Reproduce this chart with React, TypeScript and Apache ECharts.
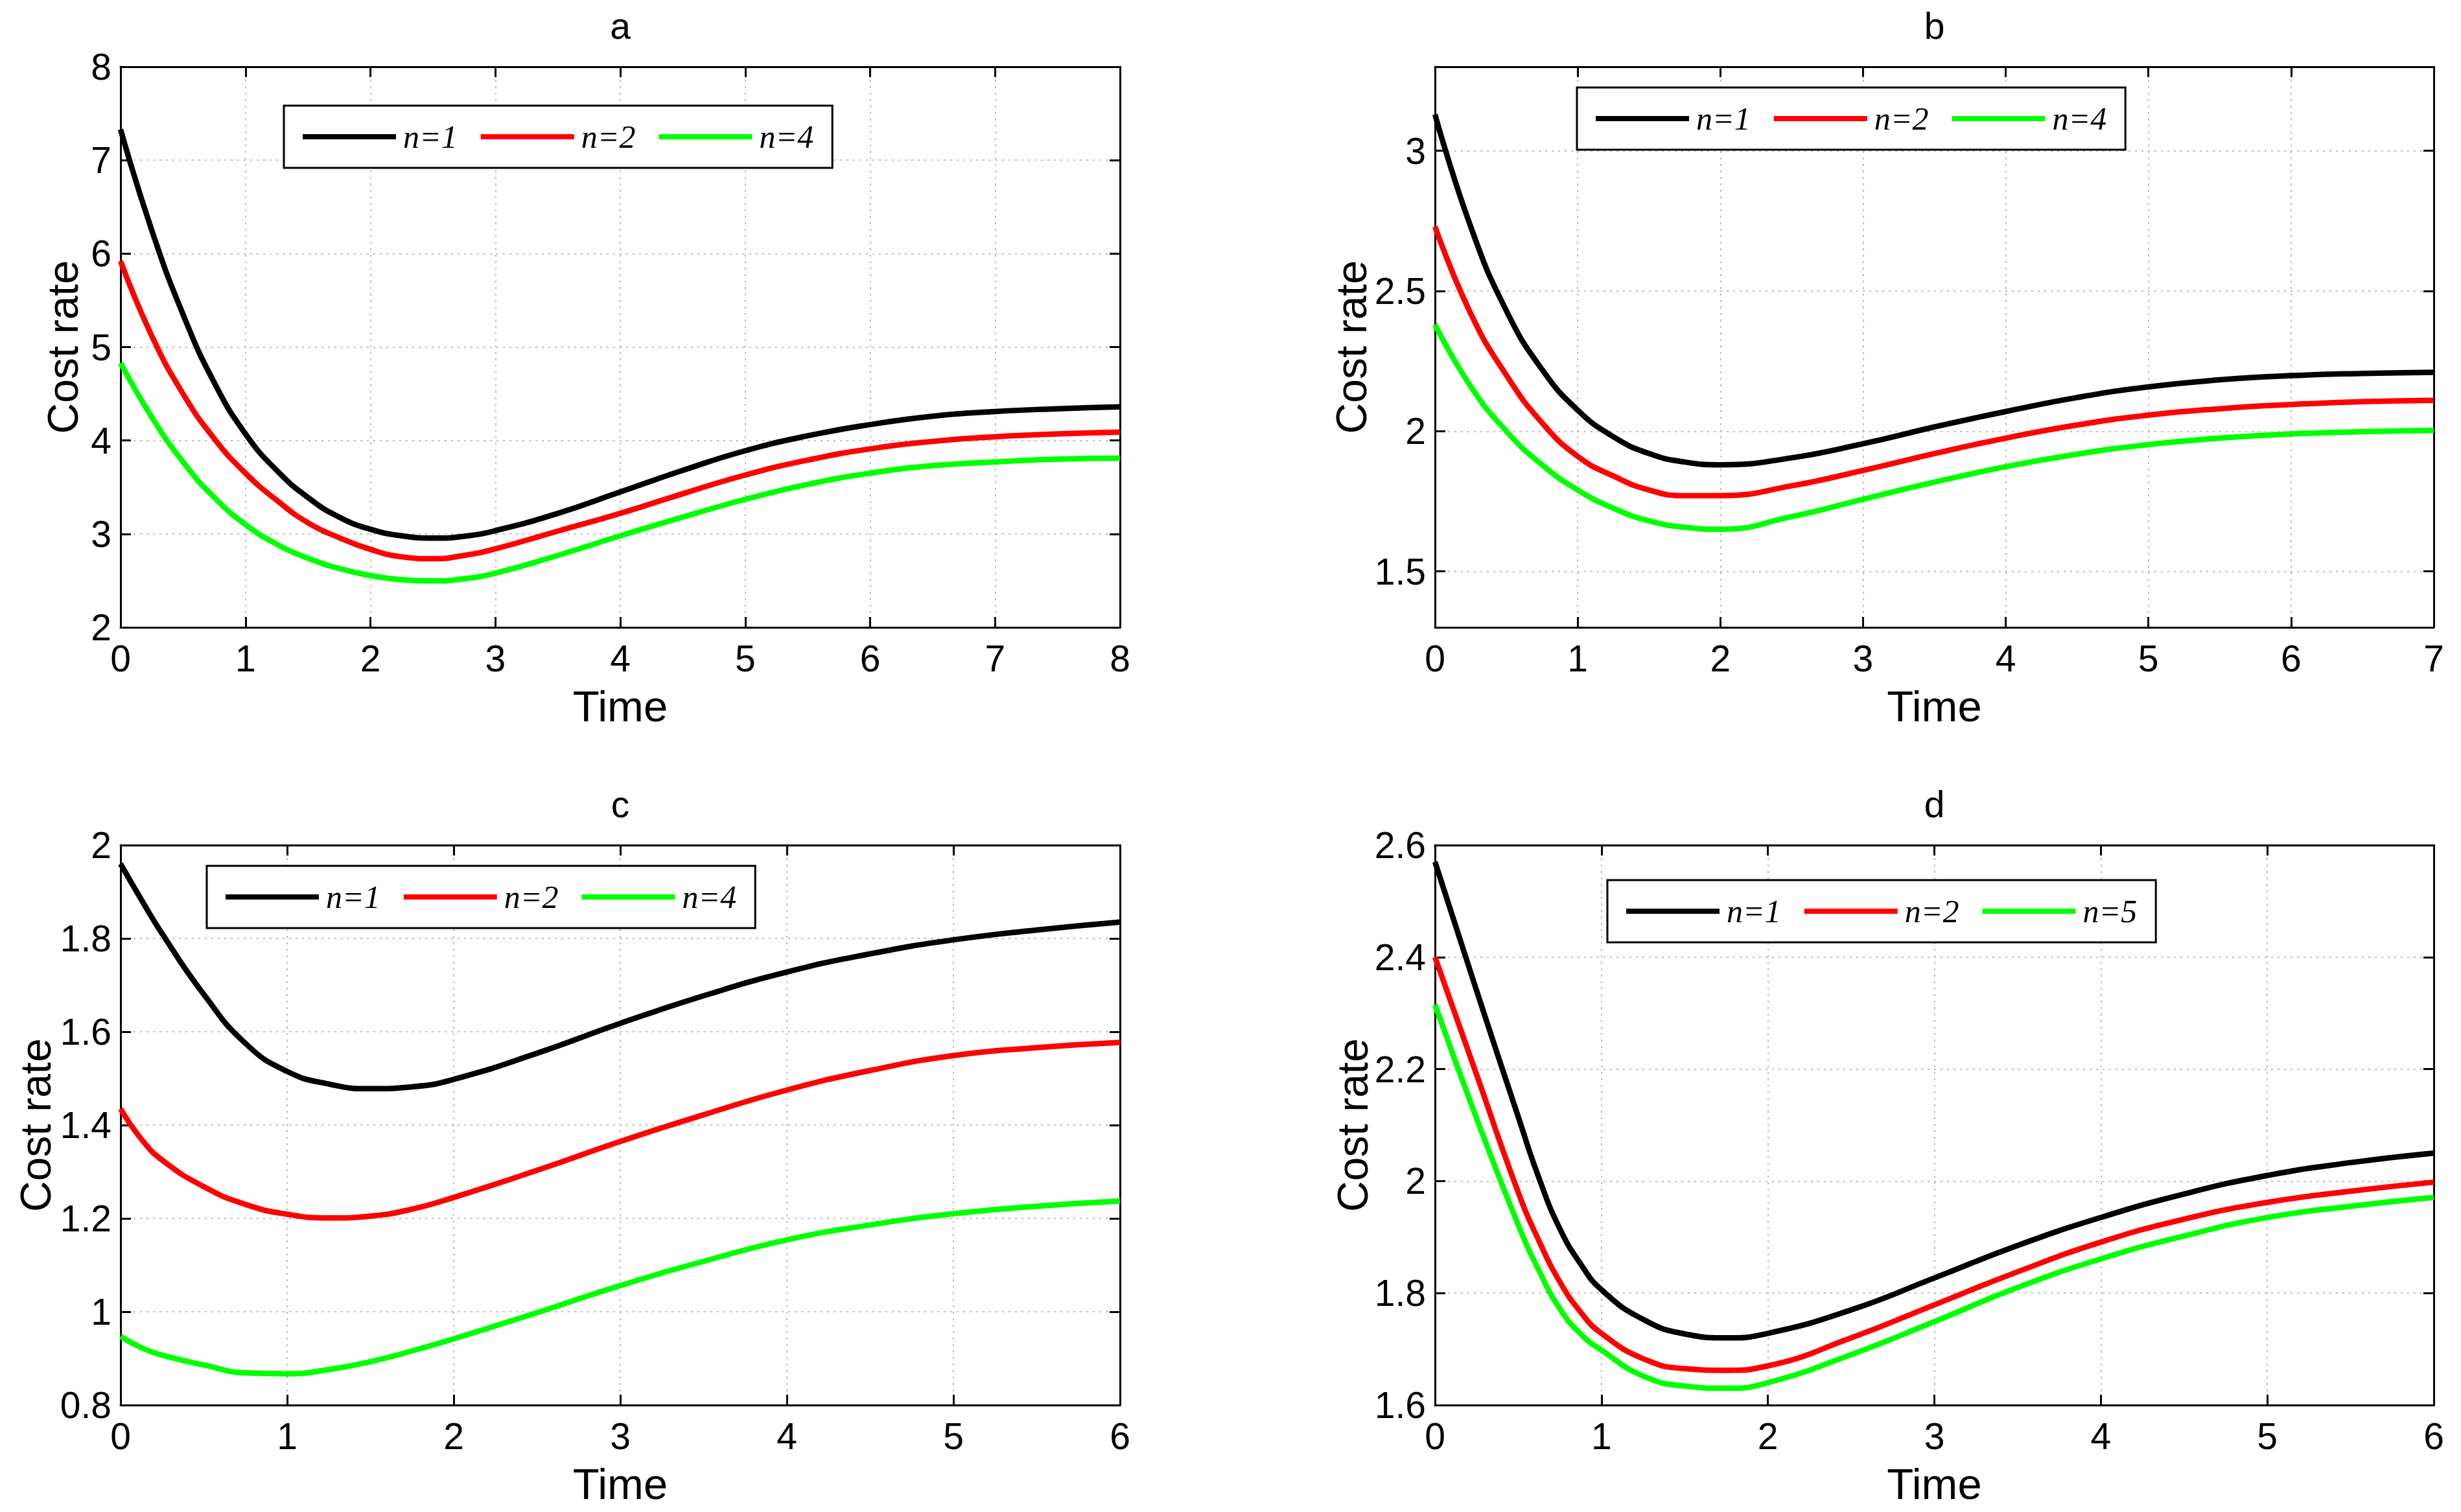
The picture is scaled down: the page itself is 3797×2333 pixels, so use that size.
import React, { useEffect, useRef } from "react";
import * as echarts from "echarts";

// ---------- data ----------
const X_A = [0, 0.25, 0.5, 0.75, 1, 1.25, 1.5, 1.75, 2, 2.25, 2.5, 2.75, 3, 3.5, 4, 4.5, 5, 5.5, 6, 6.5, 7, 7.5, 8];
const A_N1 = [7.33, 6.25, 5.35, 4.62, 4.07, 3.68, 3.39, 3.18, 3.05, 2.98, 2.955, 2.975, 3.035, 3.22, 3.45, 3.68, 3.89, 4.05, 4.17, 4.26, 4.31, 4.34, 4.36];
const A_N2 = [5.92, 5.12, 4.5, 4.02, 3.65, 3.36, 3.12, 2.96, 2.835, 2.755, 2.735, 2.77, 2.84, 3.03, 3.22, 3.43, 3.63, 3.79, 3.91, 3.99, 4.04, 4.07, 4.09];
const A_N3 = [4.83, 4.25, 3.77, 3.39, 3.1, 2.89, 2.74, 2.63, 2.555, 2.51, 2.497, 2.52, 2.58, 2.77, 2.98, 3.18, 3.37, 3.53, 3.65, 3.73, 3.77, 3.8, 3.81];

const X_B = [0, 0.25, 0.5, 0.75, 1, 1.25, 1.5, 1.75, 2, 2.5, 3, 3.5, 4, 4.5, 5, 5.5, 6, 6.5, 7];
const B_N1 = [3.13, 2.73, 2.43, 2.22, 2.075, 1.98, 1.92, 1.89, 1.88, 1.905, 1.955, 2.015, 2.07, 2.12, 2.158, 2.183, 2.198, 2.206, 2.21];
const B_N2 = [2.73, 2.42, 2.2, 2.03, 1.91, 1.84, 1.79, 1.77, 1.77, 1.805, 1.86, 1.92, 1.975, 2.022, 2.057, 2.08, 2.095, 2.105, 2.11];
const B_N3 = [2.38, 2.16, 2.0, 1.88, 1.79, 1.725, 1.68, 1.657, 1.65, 1.695, 1.757, 1.818, 1.873, 1.918, 1.952, 1.975, 1.99, 1.998, 2.003];

const X_C = [0, 0.125, 0.25, 0.5, 0.75, 1, 1.25, 1.5, 1.75, 2, 2.5, 3, 3.5, 4, 4.5, 5, 5.5, 6];
const C_N1 = [1.96, 1.883, 1.81, 1.68, 1.575, 1.515, 1.488, 1.478, 1.482, 1.498, 1.554, 1.618, 1.677, 1.728, 1.767, 1.797, 1.818, 1.835];
const C_N2 = [1.435, 1.37, 1.325, 1.268, 1.23, 1.209, 1.201, 1.205, 1.22, 1.245, 1.303, 1.365, 1.422, 1.475, 1.517, 1.549, 1.566, 1.577];
const C_N3 = [0.947, 0.923, 0.907, 0.886, 0.869, 0.867, 0.876, 0.893, 0.916, 0.942, 0.998, 1.056, 1.108, 1.154, 1.186, 1.21, 1.226, 1.237];

const X_D = [0, 0.25, 0.5, 0.625, 0.75, 0.875, 1, 1.25, 1.5, 1.75, 2, 2.5, 3, 3.5, 4, 4.5, 5, 5.5, 6];
const D_N1 = [2.57, 2.34, 2.115, 2.005, 1.915, 1.852, 1.806, 1.753, 1.727, 1.72, 1.728, 1.77, 1.827, 1.885, 1.935, 1.977, 2.01, 2.033, 2.05];
const D_N2 = [2.4, 2.19, 1.98, 1.893, 1.82, 1.766, 1.728, 1.683, 1.665, 1.662, 1.67, 1.72, 1.779, 1.838, 1.891, 1.932, 1.962, 1.982, 1.998];
const D_N3 = [2.315, 2.112, 1.922, 1.84, 1.772, 1.727, 1.698, 1.652, 1.634, 1.63, 1.64, 1.69, 1.749, 1.81, 1.861, 1.902, 1.935, 1.955, 1.971];

const TITLES = ["a", "b", "c", "d"];
const LEGENDS = [
  ["n=1", "n=2", "n=4"],
  ["n=1", "n=2", "n=4"],
  ["n=1", "n=2", "n=4"],
  ["n=1", "n=2", "n=5"],
];
const COLORS = ["#000000", "#ff0000", "#00ff00"];
const X_MAX = [8, 7, 6, 6];
const Y_MIN = [2, 1.3, 0.8, 1.6];
const Y_MAX = [8, 3.3, 2, 2.6];
const Y_INTERVAL = [1, 0.5, 0.2, 0.2];
const B_Y_TICKS = [1.5, 2, 2.5, 3];

// ---------- layout ----------
const NARROW = "'Liberation Sans Narrow', 'Liberation Sans', Arial, sans-serif";
const SANS = "'Liberation Sans', Arial, sans-serif";
const GRIDS = [
  { left: 186, top: 103, width: 1542, height: 865 },
  { left: 2214, top: 103, width: 1541, height: 865 },
  { left: 186, top: 1304, width: 1542, height: 864 },
  { left: 2214, top: 1304, width: 1541, height: 864 },
];
const LEGEND_POS = [
  { left: 438, top: 163 },
  { left: 2433, top: 135 },
  { left: 319, top: 1336 },
  { left: 2480, top: 1358 },
];
const Y_NAME_GAP = [56, 96, 98, 94];

function buildOption() {
  const xAxis: any[] = [];
  const yAxis: any[] = [];
  const series: any[] = [];
  const legend: any[] = [];
  const graphic: any[] = [];
  const lineBlack = { color: "#000", width: 3 };
  const tick = { show: true, inside: true, length: 16, lineStyle: { color: "#000", width: 3 } };
  const split = { show: true, lineStyle: { color: "#bdbdbd", width: 2, type: [3, 7] } };

  const xs = [X_A, X_B, X_C, X_D];
  const ys = [
    [A_N1, A_N2, A_N3],
    [B_N1, B_N2, B_N3],
    [C_N1, C_N2, C_N3],
    [D_N1, D_N2, D_N3],
  ];

  for (let g = 0; g < 4; g++) {
    const custom = g === 1 ? B_Y_TICKS : null;
    const yRange: any = { min: Y_MIN[g], max: Y_MAX[g] };
    if (!custom) yRange.interval = Y_INTERVAL[g];

    xAxis.push({
      type: "value", gridIndex: g, min: 0, max: X_MAX[g], interval: 1, position: "bottom",
      axisLine: { show: true, onZero: false, lineStyle: lineBlack },
      axisTick: tick,
      axisLabel: { show: true, margin: 19, color: "#000", fontSize: 57, fontFamily: NARROW, showMinLabel: true, showMaxLabel: true, hideOverlap: false },
      splitLine: split,
      name: "Time", nameLocation: "middle", nameGap: 88, nameMoveOverlap: false,
      nameTextStyle: { color: "#000", fontSize: 67, fontFamily: NARROW },
    });
    xAxis.push({
      type: "value", gridIndex: g, min: 0, max: X_MAX[g], interval: 1, position: "top",
      axisLine: { show: true, onZero: false, lineStyle: lineBlack },
      axisTick: tick, axisLabel: { show: false }, splitLine: { show: false },
    });
    yAxis.push({
      type: "value", gridIndex: g, ...yRange, position: "left",
      axisLine: { show: true, onZero: false, lineStyle: lineBlack },
      axisTick: custom ? { ...tick, customValues: custom } : tick,
      axisLabel: {
        show: true, margin: 14, color: "#000", fontSize: 57, fontFamily: NARROW,
        showMinLabel: true, showMaxLabel: true, hideOverlap: false,
        ...(custom ? { customValues: custom } : {}),
      },
      splitLine: split,
      name: "Cost rate", nameLocation: "middle", nameGap: Y_NAME_GAP[g], nameMoveOverlap: false,
      nameTextStyle: { color: "#000", fontSize: 66, fontFamily: SANS },
    });
    yAxis.push({
      type: "value", gridIndex: g, ...yRange, position: "right",
      axisLine: { show: true, onZero: false, lineStyle: lineBlack },
      axisTick: custom ? { ...tick, customValues: custom } : tick,
      axisLabel: { show: false, ...(custom ? { customValues: custom } : {}) },
      splitLine: { show: false },
    });

    for (let s = 0; s < 3; s++) {
      series.push({
        type: "line",
        name: LEGENDS[g][s],
        xAxisIndex: 2 * g,
        yAxisIndex: 2 * g,
        data: xs[g].map((x, i) => [x, ys[g][s][i]]),
        symbol: "none",
        showSymbol: false,
        smooth: 0.5,
        clip: true,
        lineStyle: { color: COLORS[s], width: 8.5 },
        itemStyle: { color: COLORS[s] },
        z: 3,
      });
    }

    legend.push({
      show: true,
      left: LEGEND_POS[g].left,
      top: LEGEND_POS[g].top,
      orient: "horizontal",
      data: LEGENDS[g],
      icon: "rect",
      itemWidth: 144,
      itemHeight: 8,
      itemGap: 36,
      padding: [23, 29, 23, 29],
      borderColor: "#000",
      borderWidth: 3,
      borderRadius: 0,
      backgroundColor: "#fff",
      selectedMode: false,
      textStyle: { fontFamily: "'Liberation Serif', 'Times New Roman', serif", fontStyle: "italic", fontSize: 50, lineHeight: 50, color: "#000", padding: [0, 0, 0, 6] },
      z: 10,
    });

    const gr = GRIDS[g];
    graphic.push({
      type: "text",
      x: gr.left + gr.width / 2,
      y: gr.top - 63,
      style: { text: TITLES[g], fontSize: 57, fontFamily: NARROW, fill: "#000", textAlign: "center", textVerticalAlign: "middle" },
    });
  }

  return {
    animation: false,
    backgroundColor: "#ffffff",
    grid: GRIDS.map((gr) => ({ ...gr, containLabel: false, outerBoundsMode: "none" })),
    xAxis,
    yAxis,
    series,
    legend,
    graphic,
  };
}

export default function App() {
  const ref = useRef<HTMLDivElement>(null);
  useEffect(() => {
    if (!ref.current) return;
    const chart = echarts.init(ref.current, null, { renderer: "svg" });
    chart.setOption(buildOption() as any);
    return () => chart.dispose();
  }, []);
  return (
    <div
      ref={ref}
      style={{ position: "absolute", left: 0, top: 0, width: 3797, height: 2333, background: "#fff" }}
    />
  );
}
